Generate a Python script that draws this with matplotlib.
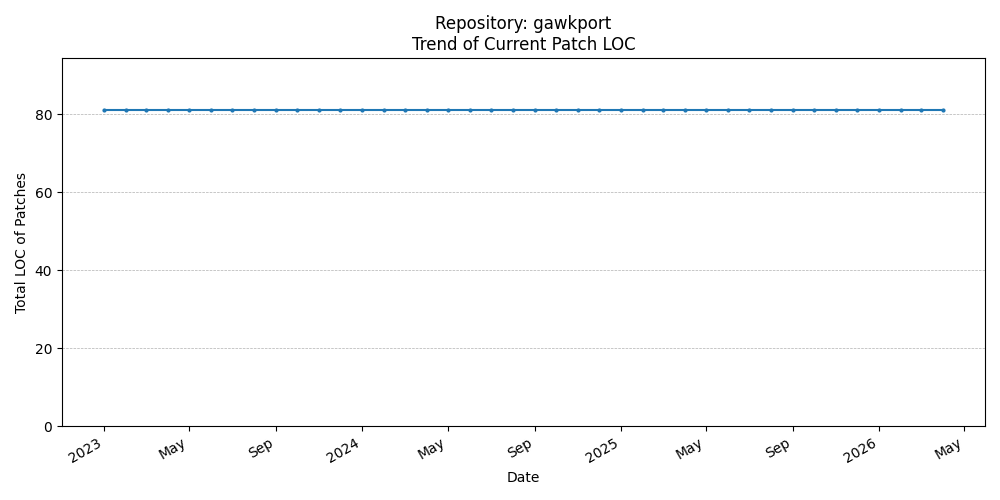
import pandas as pd
import matplotlib
matplotlib.use("Agg")
import matplotlib.pyplot as plt
import matplotlib.dates as mdates

# monthly snapshots, Jan 2023 - Apr 2026
dates = pd.date_range("2023-01-01", "2026-04-01", freq="MS")
loc_values = [81] * len(dates)

fig, ax = plt.subplots(figsize=(10, 5), dpi=100)
ax.plot(dates, loc_values, marker="o", markersize=2, color="#1f77b4")
ax.set_title("Repository: gawkport\nTrend of Current Patch LOC")
ax.set_xlabel("Date")
ax.set_ylabel("Total LOC of Patches")
ax.set_ylim(0, 94.4)
ax.grid(axis="y", linestyle="--", linewidth=0.5)
loc = mdates.AutoDateLocator()
ax.xaxis.set_major_locator(loc)
ax.xaxis.set_major_formatter(mdates.ConciseDateFormatter(loc))
fig.autofmt_xdate()
fig.tight_layout()
fig.savefig("out.png")
